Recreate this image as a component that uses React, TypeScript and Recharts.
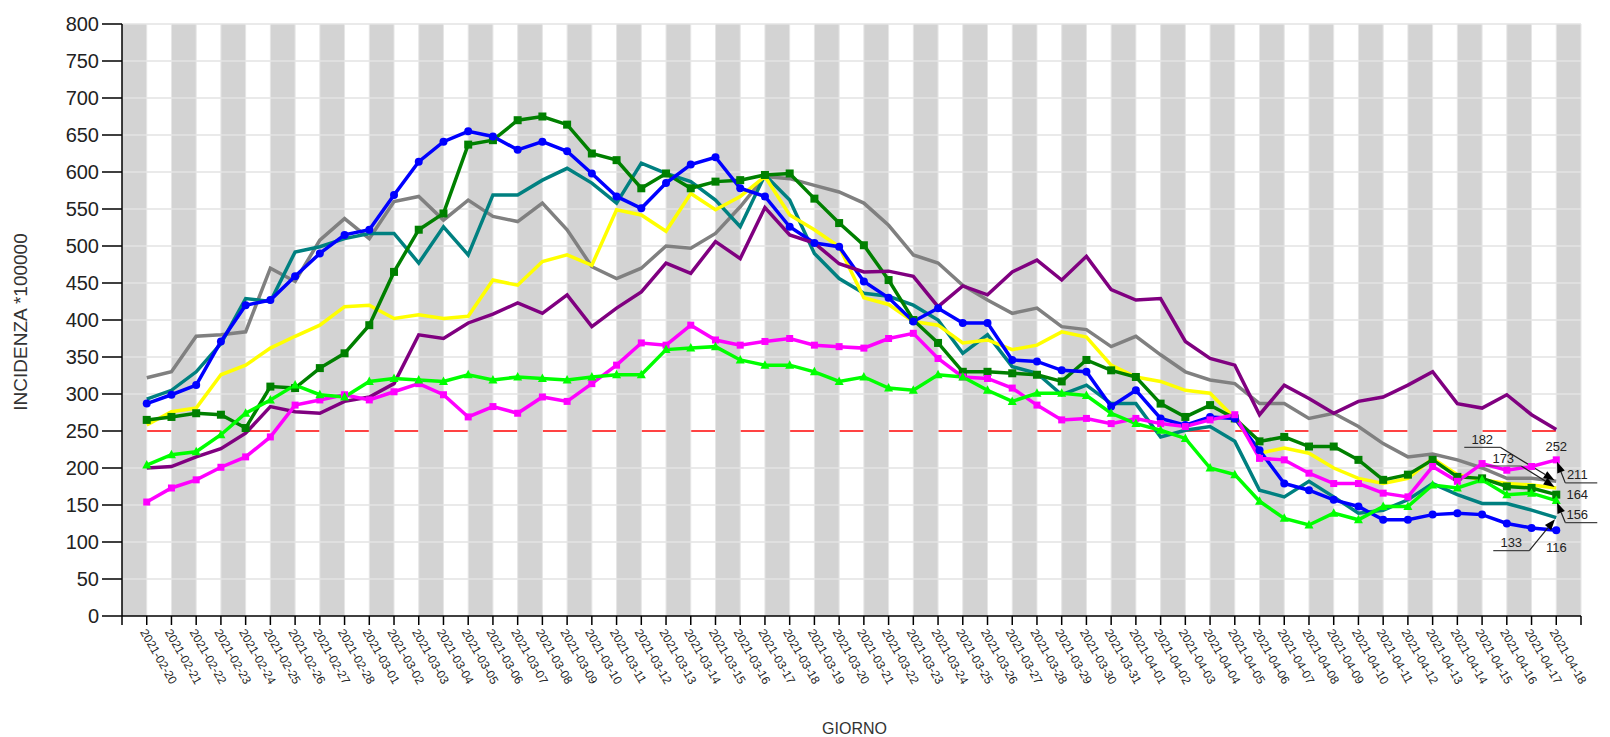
import React from 'react';
import { LineChart, Line, XAxis, YAxis, ReferenceLine, ReferenceArea } from 'recharts';

const FONT = '"Liberation Sans", Arial, sans-serif';

const days = [
  '2021-02-20', '2021-02-21', '2021-02-22', '2021-02-23', '2021-02-24', '2021-02-25', '2021-02-26', '2021-02-27', '2021-02-28',
  '2021-03-01', '2021-03-02', '2021-03-03', '2021-03-04', '2021-03-05', '2021-03-06', '2021-03-07', '2021-03-08', '2021-03-09',
  '2021-03-10', '2021-03-11', '2021-03-12', '2021-03-13', '2021-03-14', '2021-03-15', '2021-03-16', '2021-03-17', '2021-03-18',
  '2021-03-19', '2021-03-20', '2021-03-21', '2021-03-22', '2021-03-23', '2021-03-24', '2021-03-25', '2021-03-26', '2021-03-27',
  '2021-03-28', '2021-03-29', '2021-03-30', '2021-03-31', '2021-04-01', '2021-04-02', '2021-04-03', '2021-04-04', '2021-04-05',
  '2021-04-06', '2021-04-07', '2021-04-08', '2021-04-09', '2021-04-10', '2021-04-11', '2021-04-12', '2021-04-13', '2021-04-14',
  '2021-04-15', '2021-04-16', '2021-04-17', '2021-04-18',
];

const blueValues = [287, 299, 312, 371, 420, 427, 459, 490, 515, 522, 569, 614, 641, 655, 648, 630, 641, 628, 598, 567, 551, 585, 610, 620, 578, 567, 526, 504, 499, 452, 430, 398, 416, 396, 396, 346, 344, 332, 330, 283, 305, 267, 258, 269, 267, 224, 179, 170, 157, 148, 130, 130, 137, 139, 137, 125, 119, 116];
const darkGreenValues = [265, 269, 274, 272, 254, 310, 308, 335, 355, 393, 465, 522, 544, 637, 643, 670, 675, 664, 625, 616, 578, 598, 578, 587, 589, 596, 598, 564, 531, 501, 454, 400, 369, 330, 330, 328, 326, 317, 346, 332, 323, 287, 269, 285, 267, 236, 242, 229, 229, 211, 184, 191, 211, 188, 186, 175, 173, 164];
const tealValues = [293, 305, 330, 368, 429, 425, 492, 499, 510, 517, 517, 477, 526, 488, 569, 569, 589, 605, 585, 558, 612, 598, 587, 562, 526, 596, 562, 490, 456, 436, 432, 420, 400, 355, 380, 337, 328, 299, 312, 287, 287, 242, 251, 256, 236, 170, 161, 182, 161, 139, 143, 157, 179, 164, 152, 152, 143, 133];
const grayValues = [322, 330, 378, 380, 384, 470, 452, 508, 537, 510, 560, 567, 535, 562, 540, 533, 558, 522, 472, 456, 470, 500, 497, 517, 553, 594, 591, 582, 573, 558, 528, 488, 477, 447, 427, 409, 416, 391, 387, 364, 378, 353, 330, 319, 314, 287, 287, 267, 274, 256, 233, 215, 219, 211, 200, 186, 186, 182];
const yellowValues = [258, 276, 281, 326, 339, 362, 378, 393, 418, 420, 402, 407, 402, 405, 454, 447, 479, 488, 474, 549, 542, 520, 571, 549, 567, 594, 542, 522, 499, 430, 421, 398, 393, 369, 373, 360, 366, 384, 377, 339, 323, 317, 305, 301, 267, 220, 227, 220, 200, 186, 179, 186, 213, 191, 184, 179, 177, 173];
const purpleValues = [200, 202, 215, 226, 247, 283, 276, 274, 290, 296, 314, 380, 375, 396, 408, 423, 409, 434, 391, 416, 438, 477, 463, 506, 483, 552, 515, 504, 476, 465, 466, 459, 418, 446, 434, 465, 481, 454, 486, 441, 427, 429, 371, 348, 339, 272, 312, 294, 274, 290, 296, 312, 330, 287, 281, 299, 272, 252];
const magentaValues = [154, 173, 184, 201, 215, 242, 285, 292, 299, 292, 303, 314, 299, 269, 283, 274, 296, 290, 314, 339, 369, 366, 393, 373, 366, 371, 375, 366, 364, 362, 375, 382, 348, 323, 321, 308, 285, 265, 267, 260, 267, 260, 256, 265, 272, 213, 211, 193, 179, 179, 166, 161, 202, 182, 206, 197, 202, 211];
const limeValues = [204, 218, 222, 245, 274, 292, 312, 299, 296, 317, 321, 319, 317, 326, 319, 323, 321, 319, 323, 326, 326, 360, 362, 364, 346, 339, 339, 330, 317, 323, 308, 305, 326, 323, 305, 290, 301, 301, 298, 274, 260, 251, 240, 200, 191, 155, 132, 123, 139, 130, 148, 148, 177, 173, 184, 164, 166, 156];

const yTicks = [0, 50, 100, 150, 200, 250, 300, 350, 400, 450, 500, 550, 600, 650, 700, 750, 800];
const threshold = 250;
const gridValues = yTicks.filter((v) => v > 0 && v !== threshold);
const yLabel = 'INCIDENZA *100000';
const xLabel = 'GIORNO';

const N = days.length;
const xTicks = Array.from({ length: N + 2 }, (_, i) => i - 1);
const bandStarts = xTicks.filter((t) => t < N && (t + 1) % 2 === 0);
const whiteStarts = xTicks.filter((t) => t >= 0 && t < N && t % 2 === 0);

const data = days.map((d, i) => ({
  idx: i,
  day: d,
  gray: grayValues[i],
  teal: tealValues[i],
  yellow: yellowValues[i],
  darkGreen: darkGreenValues[i],
  blue: blueValues[i],
  purple: purpleValues[i],
  magenta: magentaValues[i],
  lime: limeValues[i],
}));

type Ann = { dx: number; dy: number; leader: 'none' | 'left' | 'right' };
type Series = { key: string; color: string; marker: 'none' | 'circle' | 'square' | 'triangle' | 'smallSquare'; ann: Ann };

const series: Series[] = [
  { key: 'gray', color: '#808080', marker: 'none', ann: { dx: -74, dy: -42, leader: 'right' } },
  { key: 'teal', color: '#008080', marker: 'none', ann: { dx: -45, dy: 25, leader: 'right' } },
  { key: 'yellow', color: '#ffff00', marker: 'none', ann: { dx: -53, dy: -30, leader: 'right' } },
  { key: 'darkGreen', color: '#008000', marker: 'square', ann: { dx: 21, dy: 0, leader: 'none' } },
  { key: 'blue', color: '#0000ff', marker: 'circle', ann: { dx: 0, dy: 17, leader: 'none' } },
  { key: 'purple', color: '#800080', marker: 'none', ann: { dx: 0, dy: 17, leader: 'none' } },
  { key: 'magenta', color: '#ff00ff', marker: 'smallSquare', ann: { dx: 21, dy: 15, leader: 'left' } },
  { key: 'lime', color: '#00ff00', marker: 'triangle', ann: { dx: 21, dy: 14, leader: 'left' } },
];

function Annotation({ cx, cy, value, ann }: { cx: number; cy: number; value: number; ann: Ann }) {
  const tx = cx + ann.dx;
  const ty = cy + ann.dy;
  const parts: React.ReactNode[] = [];
  if (ann.leader !== 'none') {
    const ul = ann.leader === 'right' ? tx - 18 : tx - 12;
    const ur = ann.leader === 'right' ? tx + 18 : tx + 20;
    const uy = ty + 8;
    const sx = ann.leader === 'right' ? ur : ul;
    const sy = uy;
    const vx = cx - sx;
    const vy = cy - sy;
    const len = Math.sqrt(vx * vx + vy * vy) || 1;
    const ux = vx / len;
    const uyv = vy / len;
    const tipX = cx - ux * 2;
    const tipY = cy - uyv * 2;
    const bX = tipX - ux * 11;
    const bY = tipY - uyv * 11;
    const nx = -uyv;
    const ny = ux;
    parts.push(<line key="u" x1={ul} y1={uy} x2={ur} y2={uy} stroke="#444" strokeWidth={1.2} />);
    parts.push(<line key="d" x1={sx} y1={sy} x2={bX} y2={bY} stroke="#222" strokeWidth={1.2} />);
    parts.push(
      <polygon
        key="a"
        points={`${tipX},${tipY} ${bX + nx * 4},${bY + ny * 4} ${bX - nx * 4},${bY - ny * 4}`}
        fill="#000"
      />
    );
  }
  parts.push(
    <text key="t" x={tx} y={ty} dy="0.35em" textAnchor="middle" fontSize={13} fill="#222" fontFamily={FONT}>
      {value}
    </text>
  );
  return <g>{parts}</g>;
}

function makeDot(s: Series) {
  return (props: any) => {
    const { cx, cy, index, value } = props;
    const k = `dot-${s.key}-${index}`;
    if (cx == null || cy == null) return <g key={k} />;
    let marker: React.ReactNode = null;
    if (s.marker === 'circle') marker = <circle cx={cx} cy={cy} r={4} fill={s.color} />;
    else if (s.marker === 'square') marker = <rect x={cx - 4} y={cy - 4} width={8} height={8} fill={s.color} />;
    else if (s.marker === 'smallSquare') marker = <rect x={cx - 3.5} y={cy - 3.5} width={7} height={7} fill={s.color} />;
    else if (s.marker === 'triangle') marker = <polygon points={`${cx},${cy - 5} ${cx - 4.5},${cy + 3.5} ${cx + 4.5},${cy + 3.5}`} fill={s.color} />;
    const isLast = index === N - 1;
    return (
      <g key={k}>
        {marker}
        {isLast ? <Annotation cx={cx} cy={cy} value={Array.isArray(value) ? value[1] : value} ann={s.ann} /> : null}
      </g>
    );
  };
}

function XTick(props: any) {
  const { x, y, payload } = props;
  const i = payload.value;
  if (i < 0 || i >= N) return <g />;
  const ax = x - 7;
  const ay = y + 5;
  return (
    <text x={ax} y={ay} transform={`rotate(60 ${ax} ${ay})`} fontSize={12} fill="#222" fontFamily={FONT} textAnchor="start">
      {days[i]}
    </text>
  );
}

export default function App() {
  return (
    <div style={{ position: 'absolute', left: 0, top: 0, width: 1610, height: 737, background: '#fff' }}>
      <LineChart width={1610} height={737} data={data} margin={{ top: 24, right: 29, bottom: 0, left: 0 }}>
        <XAxis
          type="number"
          dataKey="idx"
          domain={[-1, N]}
          ticks={xTicks}
          interval={0}
          height={121}
          tickSize={9}
          tickMargin={2}
          axisLine={{ stroke: '#000', strokeWidth: 1.5 }}
          tickLine={{ stroke: '#000', strokeWidth: 1.5 }}
          tick={<XTick />}
          allowDecimals={false}
          label={{
            content: (p: any) => {
              const vb = p.viewBox || { x: 122, y: 616, width: 1459, height: 121 };
              return (
                <text x={vb.x + vb.width / 2 + 3} y={vb.y + 118} textAnchor="middle" fontSize={16} fill="#333" fontFamily={FONT}>
                  {xLabel}
                </text>
              );
            },
          }}
        />
        <YAxis
          type="number"
          domain={[0, 800]}
          ticks={yTicks}
          interval={0}
          width={122}
          tickSize={20}
          tickMargin={3}
          axisLine={{ stroke: '#000', strokeWidth: 1.5 }}
          tickLine={{ stroke: '#000', strokeWidth: 1.5 }}
          tick={{ fill: '#222', fontSize: 20, fontFamily: FONT }}
          label={{
            content: (p: any) => {
              const vb = p.viewBox || { x: 0, y: 24, width: 122, height: 592 };
              const lx = vb.x + 20;
              const ly = vb.y + vb.height / 2 + 2;
              return (
                <text x={lx} y={ly} transform={`rotate(-90 ${lx} ${ly})`} textAnchor="middle" dy="0.35em" fontSize={19} fill="#333" fontFamily={FONT}>
                  {yLabel}
                </text>
              );
            },
          }}
        />
        {bandStarts.map((s) => (
          <ReferenceArea key={`band-${s}`} x1={s} x2={s + 1} y1={0} y2={800} fill="#d3d3d3" fillOpacity={1} stroke="none" />
        ))}
        {whiteStarts.map((s) => (
          <ReferenceArea
            key={`thr-${s}`}
            x1={s}
            x2={s + 1}
            y1={threshold - 1}
            y2={threshold + 1}
            fill="#ff0000"
            fillOpacity={1}
            stroke="none"
          />
        ))}
        {gridValues.map((v) => (
          <ReferenceLine key={`hg-${v}`} y={v} stroke="#e3e3e3" strokeWidth={1.5} />
        ))}
        {xTicks.slice(1).map((t) => (
          <ReferenceLine key={`vg-${t}`} x={t} stroke="#e6e6e6" strokeWidth={1} />
        ))}
        {series.map((s) => (
          <Line
            key={s.key}
            type="linear"
            dataKey={s.key}
            stroke={s.color}
            strokeWidth={3.5}
            dot={makeDot(s)}
            activeDot={false}
            isAnimationActive={false}
          />
        ))}
      </LineChart>
    </div>
  );
}
